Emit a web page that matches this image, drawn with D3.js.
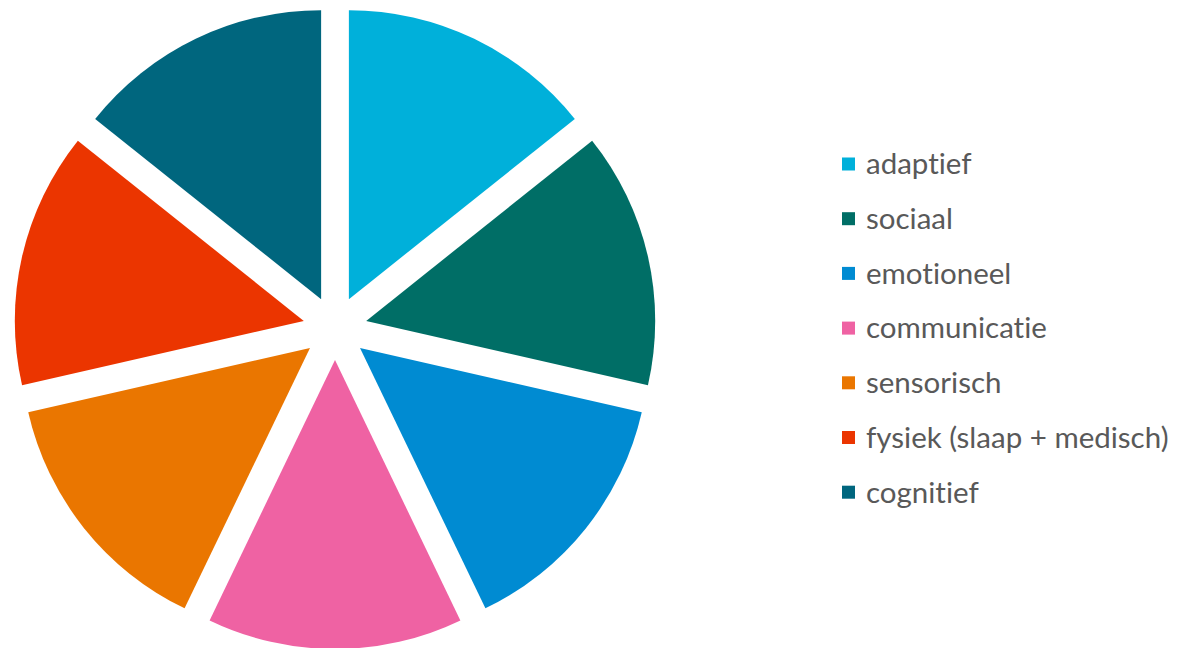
<!DOCTYPE html>
<html>
<head>
<meta charset="utf-8">
<script src="https://cdn.jsdelivr.net/npm/d3@7"></script>
<style>
  body { margin: 0; background: #fff; }
  text { font-family: Lato, "Open Sans", sans-serif; font-variant-ligatures: none; font-feature-settings: "liga" 0, "dlig" 0; }
</style>
</head>
<body>
<div id="container"></div>
<script>
const w = 1186;
const h = 648;

const categories = ['adaptief', 'sociaal', 'emotioneel', 'communicatie', 'sensorisch', 'fysiek (slaap + medisch)', 'cognitief'];
const values = [1, 1, 1, 1, 1, 1, 1];
const colors = ['#00B0DA', '#006E66', '#008BD2', '#EF62A3', '#EA7600', '#EB3500', '#00667E'];

const cx = 335;
const cy = 328;
const r = 289;
const explode = 32;

const svg = d3.select('#container')
  .append('svg')
  .attr('width', w)
  .attr('height', h)
  .attr('viewBox', [0, 0, w, h]);

const pie = d3.pie().sort(null).value(d => d.v);
const arc = d3.arc().innerRadius(0).outerRadius(r);

const data = categories.map((c, i) => ({ name: c, v: values[i], color: colors[i] }));

svg.append('g')
  .attr('transform', 'translate(' + cx + ',' + cy + ')')
  .selectAll('path')
  .data(pie(data))
  .enter()
  .append('path')
  .attr('fill', d => d.data.color)
  .attr('transform', d => {
    const a = (d.startAngle + d.endAngle) / 2;
    return 'translate(' + (Math.sin(a) * explode) + ',' + (-Math.cos(a) * explode) + ')';
  })
  .attr('d', arc);

// legend
const legendX = 842;
const legendY = 164;
const step = 54.7;

const legend = svg.append('g')
  .selectAll('g')
  .data(data)
  .enter()
  .append('g')
  .attr('transform', (d, i) => 'translate(' + legendX + ',' + (legendY + i * step) + ')');

legend.append('rect')
  .attr('x', 0)
  .attr('y', -6.5)
  .attr('width', 13)
  .attr('height', 13)
  .attr('fill', d => d.color);

legend.append('text')
  .attr('x', 24)
  .attr('y', 0)
  .attr('dy', '0.35em')
  .attr('fill', '#595959')
  .style('font-size', '29.5px')
  .text(d => d.name);
</script>
</body>
</html>
